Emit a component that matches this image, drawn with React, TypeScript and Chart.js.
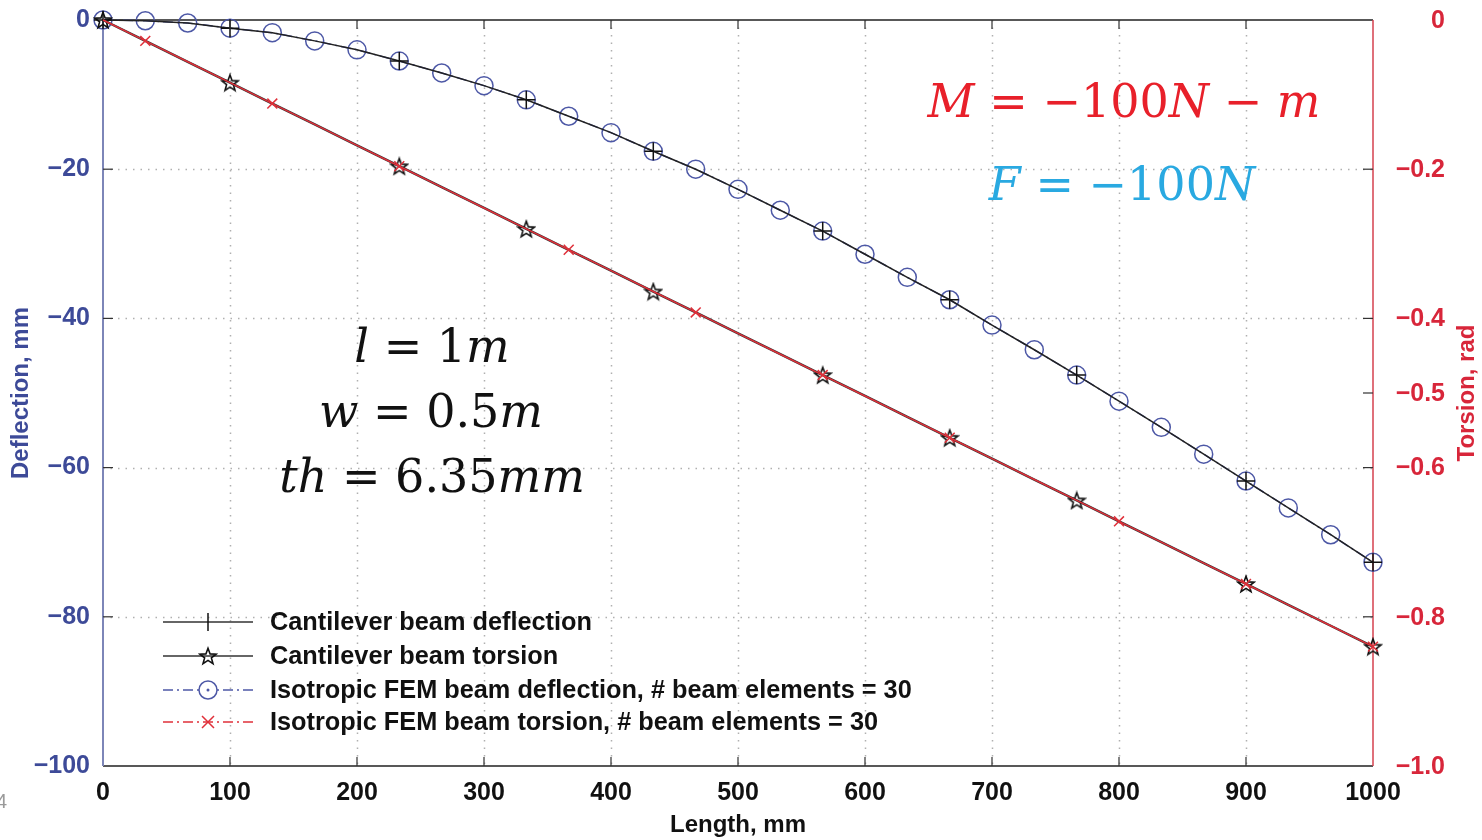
import React, { useEffect, useRef } from 'react';
import { Chart, registerables } from 'chart.js';

Chart.register(...registerables);

// ---- Data ----
const lengthMm = [0, 33.3, 66.7, 100, 133.3, 166.7, 200, 233.3, 266.7, 300, 333.3, 366.7, 400, 433.3, 466.7, 500, 533.3, 566.7, 600, 633.3, 666.7, 700, 733.3, 766.7, 800, 833.3, 866.7, 900, 933.3, 966.7, 1000];
const femDeflection = [0, -0.1, -0.4, -1.1, -1.7, -2.8, -4.0, -5.5, -7.1, -8.8, -10.7, -12.9, -15.1, -17.6, -20.0, -22.7, -25.5, -28.3, -31.4, -34.5, -37.5, -40.9, -44.2, -47.6, -51.1, -54.6, -58.2, -61.8, -65.4, -69.0, -72.7];
const beamDeflection = [0, -0.1, -0.4, -1.1, -1.7, -2.8, -4.0, -5.5, -7.1, -8.8, -10.7, -12.9, -15.1, -17.6, -20.0, -22.7, -25.5, -28.3, -31.4, -34.5, -37.5, -40.9, -44.2, -47.6, -51.1, -54.6, -58.2, -61.8, -65.4, -69.0, -72.7];
const beamTorsion = [0, -0.028, -0.056, -0.084, -0.112, -0.14, -0.168, -0.196, -0.224, -0.252, -0.28, -0.308, -0.336, -0.364, -0.392, -0.42, -0.448, -0.476, -0.504, -0.532, -0.56, -0.588, -0.616, -0.644, -0.672, -0.70, -0.728, -0.756, -0.784, -0.812, -0.84];
const femTorsion = [0, -0.028, -0.056, -0.084, -0.112, -0.14, -0.168, -0.196, -0.224, -0.252, -0.28, -0.308, -0.336, -0.364, -0.392, -0.42, -0.448, -0.476, -0.504, -0.532, -0.56, -0.588, -0.616, -0.644, -0.672, -0.70, -0.728, -0.756, -0.784, -0.812, -0.84];
const beamMarkerIdx = [0, 3, 7, 10, 13, 17, 20, 23, 27, 30];
const femTorsionMarkerIdx = [1, 4, 7, 11, 14, 17, 20, 24, 27, 30];
const deflectionTicks = [0, -20, -40, -60, -80, -100];
const torsionTicks = [0, -0.2, -0.4, -0.5, -0.6, -0.8, -1.0];
const lengthTicks = [0, 100, 200, 300, 400, 500, 600, 700, 800, 900, 1000];
const legendLabels = [
  'Cantilever beam deflection',
  'Cantilever beam torsion',
  'Isotropic FEM beam deflection, # beam elements = 30',
  'Isotropic FEM beam torsion, # beam elements = 30',
];
const xTitle = 'Length, mm';
const yTitle = 'Deflection, mm';
const y2Title = 'Torsion, rad';

// ---- Styles ----
const SANS = '"Liberation Sans", Arial, sans-serif';
const SERIF = '"DejaVu Serif", serif';
const BLUE_AX = '#3d4a98';
const RED_AX = '#d8263a';
const CIRCLE = '#4d58a6';
const RED = '#e0303a';

function makeStar(size: number, stroke: string, fill: string | null) {
  const c = document.createElement('canvas');
  c.width = size;
  c.height = size;
  const g = c.getContext('2d')!;
  const cx = size / 2, cy = size / 2 + 0.8, R = size / 2 - 1.5, r = R * 0.42;
  g.beginPath();
  for (let i = 0; i < 10; i++) {
    const a = -Math.PI / 2 + (i * Math.PI) / 5;
    const rr = i % 2 ? r : R;
    g.lineTo(cx + rr * Math.cos(a), cy + rr * Math.sin(a));
  }
  g.closePath();
  if (fill) { g.fillStyle = fill; g.fill(); }
  g.strokeStyle = stroke;
  g.lineWidth = 1.6;
  g.stroke();
  return c;
}

type Seg = [string, boolean];
const mathLines: { segs: Seg[]; color: string; cx: number; base: number; size: number }[] = [
  { segs: [['M', true], [' = \u2212100', false], ['N', true], [' \u2212 ', false], ['m', true]], color: '#e8202a', cx: 1124, base: 117, size: 46 },
  { segs: [['F', true], [' = \u2212100', false], ['N', true]], color: '#29a9e1', cx: 1122, base: 200, size: 46 },
  { segs: [['l', true], [' = 1', false], ['m', true]], color: '#111', cx: 432, base: 362, size: 46 },
  { segs: [['w', true], [' = 0.5', false], ['m', true]], color: '#111', cx: 431, base: 427, size: 46 },
  { segs: [['th', true], [' = 6.35', false], ['mm', true]], color: '#111', cx: 432, base: 492, size: 46 },
];

export default function App() {
  const ref = useRef<HTMLCanvasElement | null>(null);

  useEffect(() => {
    if (!ref.current) return;
    const star = makeStar(20, '#111', null);

    const pts = (ys: number[]) => ys.map((y, i) => ({ x: lengthMm[i], y }));
    const markerRadius = (idx: number[], r: number) => (c: any) => (idx.includes(c.dataIndex) ? r : 0);

    const frame = {
      id: 'frame',
      beforeDatasetsDraw(chart: any) {
        const { ctx, chartArea: a, scales } = chart;
        const x = scales.x, y = scales.y;
        ctx.save();
        // dotted grid
        ctx.strokeStyle = '#b0b0b0';
        ctx.lineWidth = 1.5;
        ctx.setLineDash([1.5, 6]);
        lengthTicks.slice(1, -1).forEach((v) => {
          const px = Math.round(x.getPixelForValue(v)) + 0.5;
          ctx.beginPath();
          ctx.moveTo(px, a.top); ctx.lineTo(px, a.bottom);
          ctx.stroke();
        });
        deflectionTicks.slice(1, -1).forEach((v) => {
          const py = Math.round(y.getPixelForValue(v)) + 0.5;
          ctx.beginPath();
          ctx.moveTo(a.left, py); ctx.lineTo(a.right, py);
          ctx.stroke();
        });
        ctx.setLineDash([]);
        // borders
        ctx.lineWidth = 1.5;
        ctx.strokeStyle = '#222';
        ctx.beginPath();
        ctx.moveTo(a.left, a.top); ctx.lineTo(a.right, a.top);
        ctx.moveTo(a.left, a.bottom); ctx.lineTo(a.right, a.bottom);
        ctx.stroke();
        ctx.lineWidth = 2;
        ctx.strokeStyle = '#7d86b8';
        ctx.beginPath();
        ctx.moveTo(a.left, a.top); ctx.lineTo(a.left, a.bottom);
        ctx.stroke();
        ctx.lineWidth = 1.5;
        ctx.strokeStyle = '#d4404e';
        ctx.beginPath();
        ctx.moveTo(a.right, a.top); ctx.lineTo(a.right, a.bottom);
        ctx.stroke();
        ctx.restore();
      },
      afterDraw(chart: any) {
        const { ctx, chartArea: a, scales } = chart;
        const x = scales.x, y = scales.y, y2 = scales.y2;
        ctx.save();
        // inward ticks
        ctx.lineWidth = 1.2;
        ctx.strokeStyle = '#333';
        lengthTicks.slice(1, -1).forEach((v) => {
          const px = x.getPixelForValue(v);
          ctx.beginPath();
          ctx.moveTo(px, a.bottom); ctx.lineTo(px, a.bottom - 9);
          ctx.moveTo(px, a.top); ctx.lineTo(px, a.top + 9);
          ctx.stroke();
        });
        deflectionTicks.slice(1, -1).forEach((v) => {
          const py = y.getPixelForValue(v);
          ctx.beginPath();
          ctx.moveTo(a.left, py); ctx.lineTo(a.left + 10, py);
          ctx.stroke();
        });
        torsionTicks.slice(1, -1).forEach((v) => {
          const py = y2.getPixelForValue(v);
          ctx.beginPath();
          ctx.moveTo(a.right, py); ctx.lineTo(a.right - 10, py);
          ctx.stroke();
        });
        // right tick labels
        ctx.fillStyle = RED_AX;
        ctx.font = `bold 25px ${SANS}`;
        ctx.textAlign = 'right';
        ctx.textBaseline = 'middle';
        torsionTicks.forEach((v) => {
          const py = y2.getPixelForValue(v);
          ctx.fillText(v === 0 ? '0' : '\u2212' + Math.abs(v).toFixed(1), 1445, py + 1);
        });
        // right title
        ctx.save();
        ctx.translate(1467, (a.top + a.bottom) / 2);
        ctx.rotate(-Math.PI / 2);
        ctx.fillStyle = RED_AX;
        ctx.font = `bold 24px ${SANS}`;
        ctx.textAlign = 'center';
        ctx.textBaseline = 'middle';
        ctx.fillText(y2Title, 0, 0);
        ctx.restore();
        // stray page number
        ctx.fillStyle = '#9a9a9a';
        ctx.font = `20px ${SANS}`;
        ctx.textAlign = 'left';
        ctx.textBaseline = 'middle';
        ctx.fillText('4', -4, 802);

        // legend
        const rows = [622, 656, 690, 722];
        const lx0 = 163, lx1 = 253, mx = 208;
        rows.forEach((ry, i) => {
          ctx.save();
          ctx.lineWidth = 1.5;
          if (i === 0 || i === 1) {
            ctx.strokeStyle = '#333';
            ctx.setLineDash([]);
          } else if (i === 2) {
            ctx.strokeStyle = CIRCLE;
            ctx.setLineDash([10, 4, 2, 4]);
          } else {
            ctx.strokeStyle = RED;
            ctx.setLineDash([10, 4, 2, 4]);
          }
          ctx.beginPath();
          ctx.moveTo(lx0, ry); ctx.lineTo(lx1, ry);
          ctx.stroke();
          ctx.setLineDash([]);
          if (i === 0) {
            ctx.strokeStyle = '#111';
            ctx.beginPath();
            ctx.moveTo(mx, ry - 9); ctx.lineTo(mx, ry + 9);
            ctx.stroke();
          } else if (i === 1) {
            ctx.drawImage(star, mx - 10, ry - 10, 20, 20);
          } else if (i === 2) {
            ctx.fillStyle = '#fff';
            ctx.beginPath();
            ctx.arc(mx, ry, 9, 0, Math.PI * 2);
            ctx.fill();
            ctx.strokeStyle = CIRCLE;
            ctx.stroke();
            ctx.fillStyle = CIRCLE;
            ctx.beginPath();
            ctx.arc(mx, ry, 1.5, 0, Math.PI * 2);
            ctx.fill();
          } else {
            ctx.strokeStyle = RED;
            ctx.beginPath();
            ctx.moveTo(mx - 6, ry - 6); ctx.lineTo(mx + 6, ry + 6);
            ctx.moveTo(mx + 6, ry - 6); ctx.lineTo(mx - 6, ry + 6);
            ctx.stroke();
          }
          ctx.restore();
          ctx.fillStyle = '#111';
          ctx.font = `bold 25.3px ${SANS}`;
          ctx.textAlign = 'left';
          ctx.textBaseline = 'middle';
          ctx.fillText(legendLabels[i], 270, ry + 1);
        });

        // math annotations
        mathLines.forEach((ln) => {
          const fonts = ln.segs.map(([, it]) => `${it ? 'italic ' : ''}${ln.size}px ${SERIF}`);
          let total = 0;
          const widths = ln.segs.map(([t], k) => {
            ctx.font = fonts[k];
            const w = ctx.measureText(t).width;
            total += w;
            return w;
          });
          let cx = ln.cx - total / 2;
          ctx.fillStyle = ln.color;
          ctx.textAlign = 'left';
          ctx.textBaseline = 'alphabetic';
          ln.segs.forEach(([t], k) => {
            ctx.font = fonts[k];
            ctx.fillText(t, cx, ln.base);
            cx += widths[k];
          });
        });
        ctx.restore();
      },
    };

    const noPadV = (s: any) => { s.paddingTop = 0; s.paddingBottom = 0; };

    const chart = new Chart(ref.current, {
      type: 'line',
      data: {
        datasets: [
          {
            label: legendLabels[3],
            data: pts(femTorsion),
            yAxisID: 'y2',
            borderColor: RED,
            borderWidth: 1.5,
            pointStyle: 'crossRot',
            pointRadius: markerRadius(femTorsionMarkerIdx, 7),
            pointBorderColor: RED,
            pointBorderWidth: 1.5,
            pointBackgroundColor: RED,
            order: 1,
            clip: false,
          } as any,
          {
            label: legendLabels[1],
            data: pts(beamTorsion),
            yAxisID: 'y2',
            borderColor: '#333',
            borderWidth: 2.5,
            pointStyle: star,
            pointRadius: markerRadius(beamMarkerIdx, 9),
            order: 2,
            clip: false,
          } as any,
          {
            label: legendLabels[0],
            data: pts(beamDeflection),
            yAxisID: 'y',
            borderColor: '#222',
            borderWidth: 1.5,
            pointStyle: 'cross',
            pointRadius: markerRadius(beamMarkerIdx, 9),
            pointBorderColor: '#111',
            pointBorderWidth: 1.5,
            order: 3,
            clip: false,
          } as any,
          {
            label: legendLabels[2],
            data: pts(femDeflection),
            yAxisID: 'y',
            borderColor: CIRCLE,
            borderWidth: 1.5,
            borderDash: [10, 4, 2, 4],
            pointStyle: 'circle',
            pointRadius: 9,
            pointBorderColor: CIRCLE,
            pointBorderWidth: 1.5,
            pointBackgroundColor: 'rgba(0,0,0,0)',
            order: 4,
            clip: false,
          } as any,
        ],
      },
      options: {
        animation: false,
        responsive: false,
        maintainAspectRatio: false,
        layout: { padding: { top: 20, left: 0, right: 0, bottom: 0 } },
        plugins: { legend: { display: false }, tooltip: { enabled: false } },
        elements: { line: { tension: 0 } },
        scales: {
          x: {
            type: 'linear',
            min: 0,
            max: 1000,
            afterBuildTicks: (s: any) => { s.ticks = lengthTicks.map((v) => ({ value: v })); },
            afterFit: (s: any) => { s.height = 74; s.paddingLeft = 0; s.paddingRight = 0; },
            border: { display: false },
            grid: { display: false, drawTicks: false },
            ticks: {
              padding: 12,
              color: '#111',
              font: { family: SANS, size: 25, weight: 'bold' },
              maxRotation: 0,
              callback: (v: any) => String(v),
            },
            title: {
              display: true,
              text: xTitle,
              color: '#111',
              font: { family: SANS, size: 24, weight: 'bold' },
              padding: { top: 0, bottom: 0 },
            },
          } as any,
          y: {
            type: 'linear',
            position: 'left',
            min: -100,
            max: 0,
            afterBuildTicks: (s: any) => { s.ticks = deflectionTicks.map((v) => ({ value: v })); },
            afterFit: (s: any) => { s.width = 103; noPadV(s); },
            border: { display: false },
            grid: { display: false, drawTicks: false },
            ticks: {
              padding: 13,
              color: BLUE_AX,
              font: { family: SANS, size: 25, weight: 'bold' },
              callback: (v: any) => (v === 0 ? '0' : '\u2212' + Math.abs(v)),
            },
            title: {
              display: true,
              text: yTitle,
              color: BLUE_AX,
              font: { family: SANS, size: 24, weight: 'bold' },
              padding: { top: 7, bottom: 0 },
            },
          } as any,
          y2: {
            type: 'linear',
            position: 'right',
            min: -1,
            max: 0,
            afterBuildTicks: (s: any) => { s.ticks = torsionTicks.map((v) => ({ value: v })); },
            afterFit: (s: any) => { s.width = 109; noPadV(s); },
            border: { display: false },
            grid: { display: false, drawTicks: false },
            ticks: { display: false },
          } as any,
        },
      },
      plugins: [frame],
    } as any);

    return () => chart.destroy();
  }, []);

  return (
    <div style={{ position: 'fixed', left: 0, top: 0, width: 1482, height: 840, background: '#fff' }}>
      <canvas ref={ref} width={1482} height={840} style={{ width: 1482, height: 840, display: 'block' }} />
    </div>
  );
}
